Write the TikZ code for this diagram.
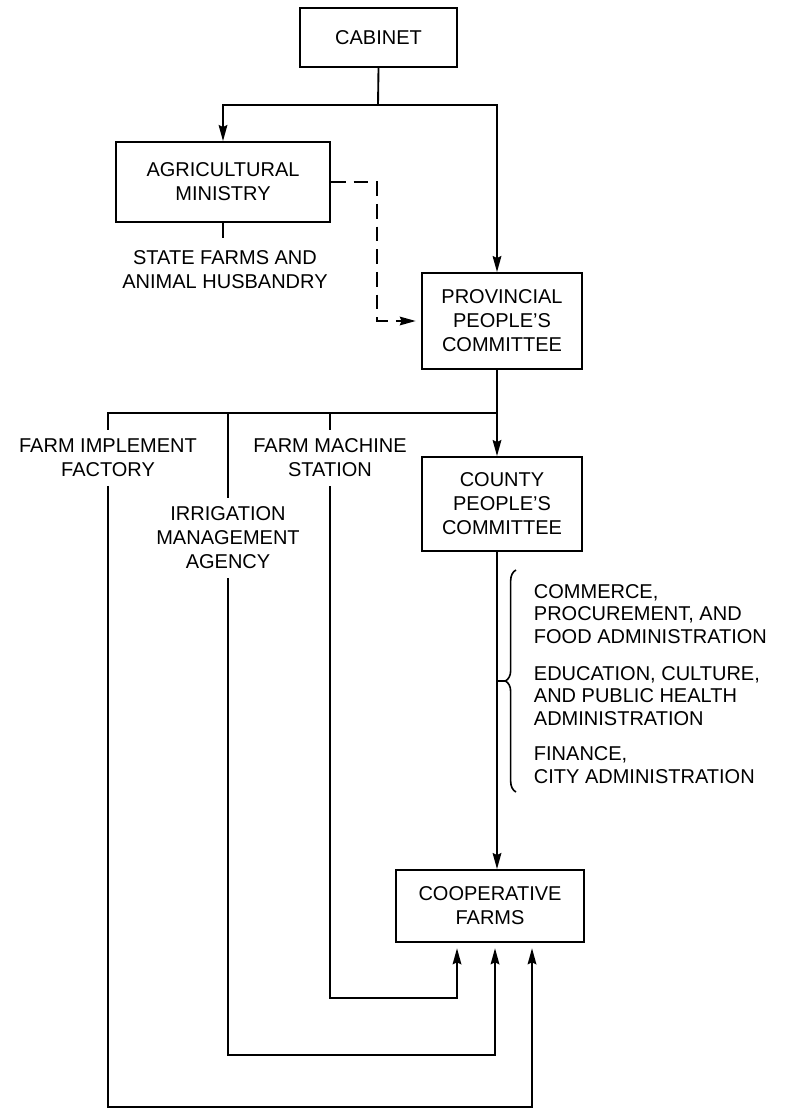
\documentclass[tikz,border=0pt]{standalone}
\usepackage{fontspec}
\setmainfont{Liberation Sans}
\usetikzlibrary{arrows.meta,positioning,decorations.pathreplacing}
\newcommand{\chartfont}{\fontsize{15}{18}\selectfont}
\newcommand{\listfont}{\fontsize{15}{17}\selectfont}

\begin{document}
\begin{tikzpicture}[x=0.75pt,y=-0.75pt,>={Stealth[length=12pt,width=6.5pt,inset=1.5pt]},line width=1.4pt,
box/.style={draw, rectangle, align=center, inner sep=0pt, font=\chartfont},
lbl/.style={align=center, inner sep=6pt, font=\chartfont},
listtext/.style={align=left, anchor=west, inner sep=0pt, font=\listfont},
]
\useasboundingbox (0,0) rectangle (788,1112);

\node[box, minimum width=117.8pt, minimum height=44.3pt] (cab) at (378.5,37.5) {CABINET};
\node[box, minimum width=160.5pt, minimum height=60pt] (agri) at (223,182) {AGRICULTURAL\\MINISTRY};
\node[box, minimum width=120pt, minimum height=72pt] (prov) at (502,321) {PROVINCIAL\\PEOPLE'S\\COMMITTEE};
\node[box, minimum width=120pt, minimum height=70.5pt] (county) at (502,504) {COUNTY\\PEOPLE'S\\COMMITTEE};
\node[box, minimum width=141pt, minimum height=54pt] (coop) at (490,906) {COOPERATIVE\\FARMS};

\node[lbl] (state) at (225,270) {STATE FARMS AND\\ANIMAL HUSBANDRY};
\node[lbl] (implement) at (108,458) {FARM IMPLEMENT\\FACTORY};
\node[lbl] (machine) at (330,458) {FARM MACHINE\\STATION};
\node[lbl] (irrigation) at (228,538) {IRRIGATION\\MANAGEMENT\\AGENCY};

\node[listtext] (commerce) at (533,614) {COMMERCE,\\PROCUREMENT, AND\\FOOD ADMINISTRATION};
\node[listtext] (education) at (533,696) {EDUCATION, CULTURE,\\AND PUBLIC HEALTH\\ADMINISTRATION};
\node[listtext] (finance) at (533,765) {FINANCE,\\CITY ADMINISTRATION};

\coordinate (split) at (378,105);
\coordinate (trunk) at (497,0);
\coordinate (bus) at (497,413);
\coordinate (dashcol) at (377,0);
\coordinate (bracetip) at (505,681);
\coordinate (m1) at (457,998);
\coordinate (m2) at (495,1055);
\coordinate (m3) at (532,1107);

% Cabinet
\draw (cab.south) -- (split);
\draw[->] (split) -| (agri.north);
\draw[->] (split) -| (trunk |- prov.north);

% Ministry
\draw[dashed, dash pattern=on 11pt off 6pt, ->, shorten >=4pt] (agri.east) -| (dashcol |- prov.west) -- (prov.west);
\draw (agri.south) -- ++(0,15);

% Province
\draw (trunk |- prov.south) -- (bus);
\draw[->] (bus) -- (trunk |- county.north);
\draw (bus) -| (implement.north);
\draw (irrigation |- bus) -- (irrigation.north);
\draw (machine |- bus) -- (machine.north);

% County
\draw[->] (trunk |- county.south) -- (trunk |- coop.north);
\draw[line width=1.2pt, decorate, decoration={brace, amplitude=8pt}] (516,792) -- (516,570);
\draw (trunk |- bracetip) -- (bracetip);

% To the farms
\draw[->, shorten >=4pt] (machine.south) |- (m1) -- (m1 |- coop.south);
\draw[->, shorten >=4pt] (irrigation.south) |- (m2) -- (m2 |- coop.south);
\draw[->, shorten >=4pt] (implement.south) |- (m3) -- (m3 |- coop.south);

\end{tikzpicture}
\end{document}
